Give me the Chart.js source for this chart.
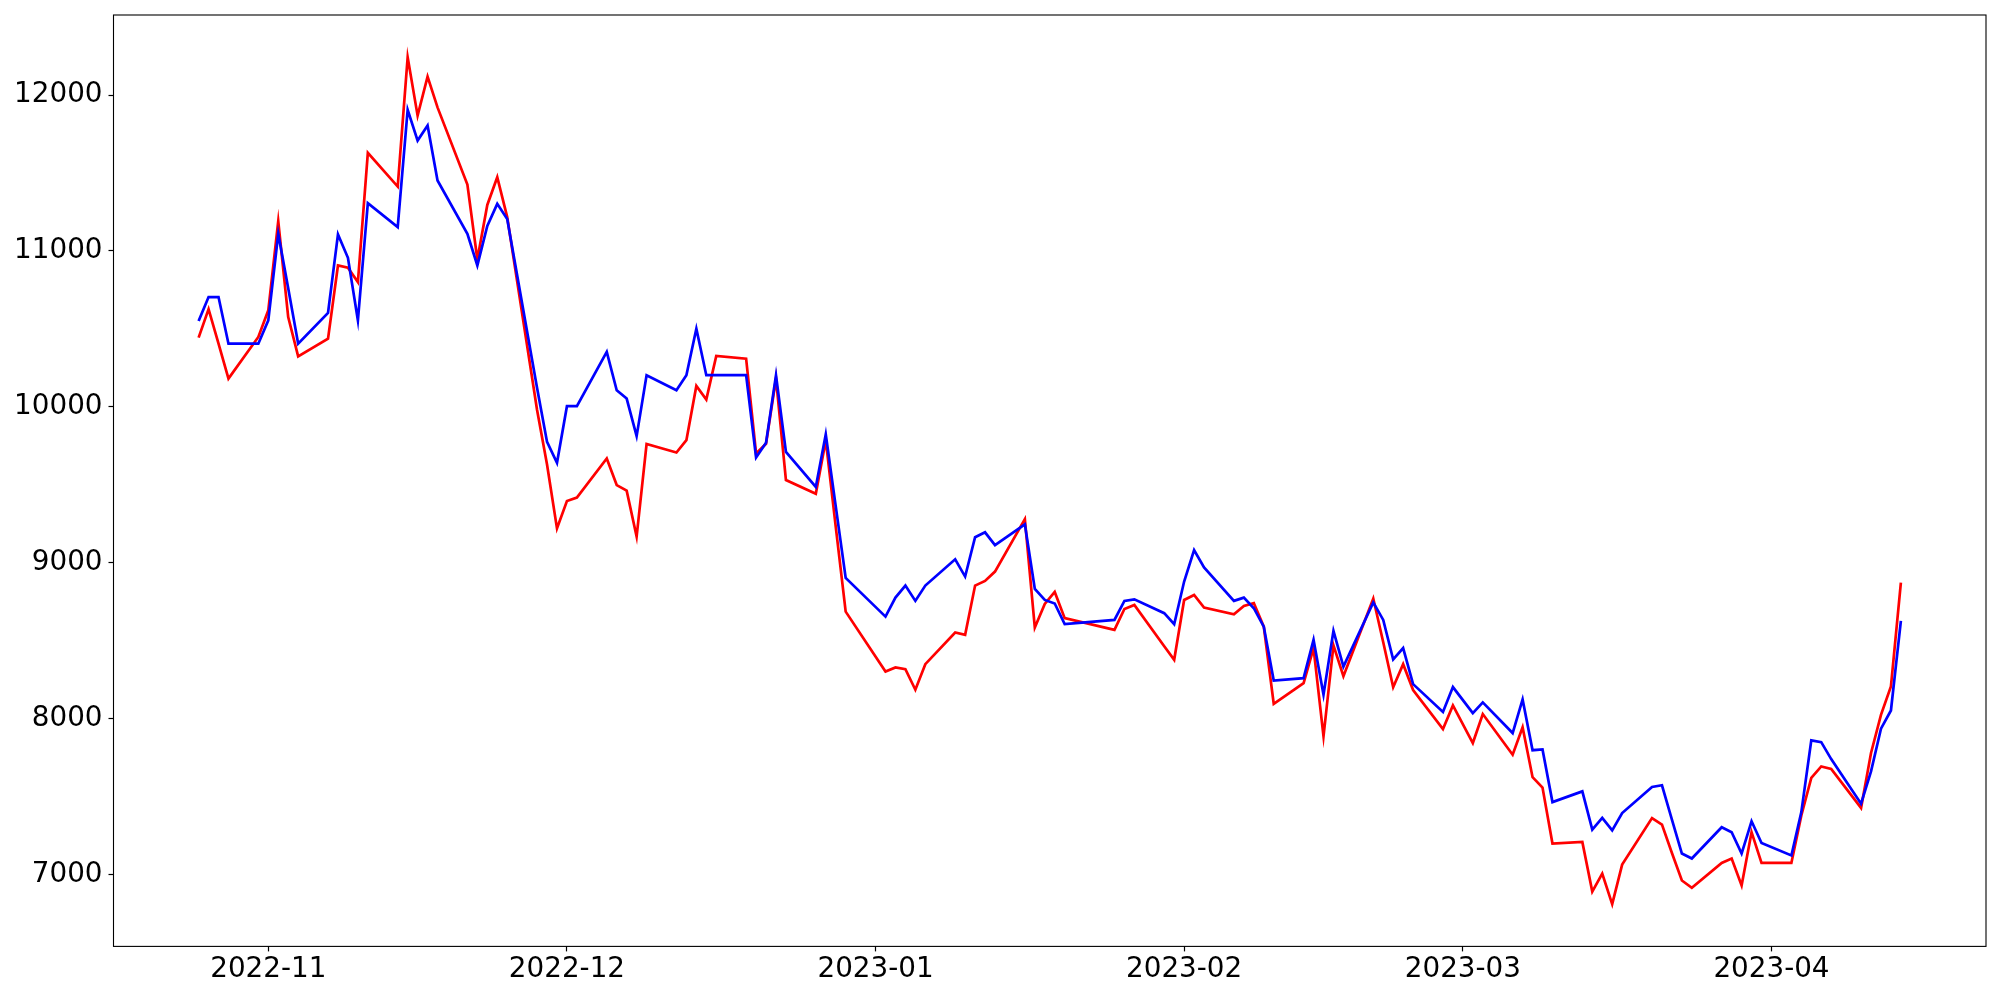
<!DOCTYPE html>
<html>
<head>
<meta charset="utf-8">
<script src="https://cdn.jsdelivr.net/npm/chart.js@4/dist/chart.umd.min.js"></script>
<style>
  html, body { margin: 0; padding: 0; background: #ffffff; }
  #wrap { width: 2000px; height: 1000px; }
</style>
</head>
<body>
<div id="wrap"><canvas id="priceChart" width="2000" height="1000"></canvas></div>
<script>
// trading days (weekdays, market holidays left out)
const dates = [
  '2022-10-25','2022-10-26','2022-10-27','2022-10-28','2022-10-31',
  '2022-11-01','2022-11-02','2022-11-03','2022-11-04',
  '2022-11-07','2022-11-08','2022-11-09','2022-11-10','2022-11-11',
  '2022-11-14','2022-11-15','2022-11-16','2022-11-17','2022-11-18',
  '2022-11-21','2022-11-22','2022-11-23','2022-11-24','2022-11-25',
  '2022-11-28','2022-11-29','2022-11-30','2022-12-01','2022-12-02',
  '2022-12-05','2022-12-06','2022-12-07','2022-12-08','2022-12-09',
  '2022-12-12','2022-12-13','2022-12-14','2022-12-15','2022-12-16',
  '2022-12-19','2022-12-20','2022-12-21','2022-12-22','2022-12-23',
  '2022-12-26','2022-12-27','2022-12-28','2022-12-29',
  '2023-01-02','2023-01-03','2023-01-04','2023-01-05','2023-01-06',
  '2023-01-09','2023-01-10','2023-01-11','2023-01-12','2023-01-13',
  '2023-01-16','2023-01-17','2023-01-18','2023-01-19','2023-01-20',
  '2023-01-25','2023-01-26','2023-01-27','2023-01-30','2023-01-31',
  '2023-02-01','2023-02-02','2023-02-03',
  '2023-02-06','2023-02-07','2023-02-08','2023-02-09','2023-02-10',
  '2023-02-13','2023-02-14','2023-02-15','2023-02-16','2023-02-17',
  '2023-02-20','2023-02-21','2023-02-22','2023-02-23','2023-02-24',
  '2023-02-27','2023-02-28','2023-03-02','2023-03-03',
  '2023-03-06','2023-03-07','2023-03-08','2023-03-09','2023-03-10',
  '2023-03-13','2023-03-14','2023-03-15','2023-03-16','2023-03-17',
  '2023-03-20','2023-03-21','2023-03-22','2023-03-23','2023-03-24',
  '2023-03-27','2023-03-28','2023-03-29','2023-03-30','2023-03-31',
  '2023-04-03','2023-04-04','2023-04-05','2023-04-06','2023-04-07',
  '2023-04-10','2023-04-11','2023-04-12','2023-04-13','2023-04-14'
];

const redValues = [
  10444, 10627, 10405, 10181, 10448,
  10619, 11191, 10576, 10324,
  10437, 10907, 10892, 10800, 11629,
  11413, 12242, 11868, 12118, 11921,
  11426, 10945, 11295, 11473, 11217,
  9980, 9630, 9220, 9396, 9418,
  9669, 9498, 9462, 9167, 9761,
  9707, 9786, 10134, 10047, 10326,
  10309, 9701, 9763, 10181, 9530,
  9442, 9786, 9231, 8686,
  8302, 8328, 8317, 8185, 8349,
  8552, 8537, 8853, 8883, 8943,
  9280, 8584, 8735, 8812, 8644,
  8569, 8703, 8729, 8464, 8377,
  8761, 8793, 8712,
  8669, 8723, 8740, 8590, 8095,
  8227, 8452, 7886, 8470, 8272,
  8770, 8490, 8201, 8349, 8183,
  7933, 8084, 7843, 8029,
  7768, 7944, 7624, 7557, 7198,
  7209, 6890, 7005, 6810, 7063,
  7362, 7320, 7138, 6961, 6914,
  7074, 7102, 6929, 7271, 7074,
  7074, 7378, 7619, 7693, 7677,
  7427, 7779, 8024, 8206, 8872
];

const blueValues = [
  10550, 10704, 10704, 10405, 10405,
  10555, 11110, 10760, 10405,
  10602, 11106, 10956, 10555, 11306,
  11153, 11906, 11708, 11804, 11452,
  11110, 10907, 11160, 11302, 11205,
  10120, 9775, 9641, 10004, 10004,
  10352, 10106, 10053, 9812, 10203,
  10106, 10203, 10501, 10203, 10203,
  10203, 9675, 9769, 10202, 9711,
  9486, 9824, 9363, 8902,
  8654, 8776, 8853, 8755, 8853,
  9022, 8911, 9163, 9195, 9113,
  9246, 8832, 8761, 8738, 8606,
  8633, 8755, 8765, 8676, 8605,
  8879, 9081, 8970,
  8755, 8776, 8708, 8590, 8244,
  8259, 8505, 8153, 8563, 8334,
  8745, 8633, 8379, 8452, 8221,
  8042, 8202, 8035, 8104,
  7907, 8123, 7797, 7802, 7464,
  7533, 7288, 7363, 7283, 7394,
  7561, 7572, 7352, 7134, 7102,
  7303, 7271, 7134, 7341, 7202,
  7122, 7400, 7860, 7849, 7740,
  7454, 7661, 7935, 8052, 8627
];

const monthTicks = ['2022-11-01','2022-12-01','2023-01-01','2023-02-01','2023-03-01','2023-04-01'];
const yTicks = [7000, 8000, 9000, 10000, 11000, 12000];

const DAY = 86400000;
const toDay = s => Date.UTC(+s.slice(0, 4), +s.slice(5, 7) - 1, +s.slice(8, 10)) / DAY;
const dayLabel = d => {
  const dt = new Date(d * DAY);
  return dt.getUTCFullYear() + '-' + String(dt.getUTCMonth() + 1).padStart(2, '0');
};

const xs = dates.map(toDay);
const redPoints = xs.map((x, i) => ({ x: x, y: redValues[i] }));
const bluePoints = xs.map((x, i) => ({ x: x, y: blueValues[i] }));

// matplotlib-like 5% margins
const xMin = Math.min(...xs), xMax = Math.max(...xs);
const xPad = (xMax - xMin) * 0.05;
const allY = redValues.concat(blueValues);
const yMin = Math.min(...allY), yMax = Math.max(...allY);
const yPad = (yMax - yMin) * 0.05;

// axes box on all four sides
const frame = {
  id: 'frame',
  afterDraw(chart) {
    const a = chart.chartArea, c = chart.ctx;
    c.save();
    c.strokeStyle = '#000000';
    c.lineWidth = 1.1;
    c.strokeRect(a.left, a.top, a.right - a.left, a.bottom - a.top);
    c.restore();
  }
};

const tickFont = { family: 'DejaVu Sans', size: 27.8 };

new Chart(document.getElementById('priceChart').getContext('2d'), {
  type: 'line',
  data: {
    datasets: [
      { label: 'blue', data: bluePoints, borderColor: '#0000ff', borderWidth: 2.7, pointRadius: 0, tension: 0, order: 0 },
      { label: 'red', data: redPoints, borderColor: '#ff0000', borderWidth: 2.7, pointRadius: 0, tension: 0, order: 1 }
    ]
  },
  plugins: [frame],
  options: {
    responsive: false,
    animation: false,
    layout: { padding: { top: 15, right: 14, left: 0, bottom: 0 } },
    plugins: { legend: { display: false }, tooltip: { enabled: false } },
    scales: {
      x: {
        type: 'linear',
        min: xMin - xPad,
        max: xMax + xPad,
        afterBuildTicks: scale => { scale.ticks = monthTicks.map(m => ({ value: toDay(m) })); },
        afterFit: scale => { scale.height = 53.6; scale.paddingLeft = 0; scale.paddingRight = 0; },
        grid: { drawOnChartArea: false, drawTicks: true, tickLength: 5, color: '#000000', tickWidth: 1.2 },
        border: { display: false },
        ticks: { color: '#000000', font: tickFont, padding: 2, maxRotation: 0, autoSkip: false, callback: v => dayLabel(v) }
      },
      y: {
        min: yMin - yPad,
        max: yMax + yPad,
        afterBuildTicks: scale => { scale.ticks = yTicks.map(v => ({ value: v })); },
        afterFit: scale => { scale.width = 113.5; scale.paddingTop = 0; scale.paddingBottom = 0; },
        grid: { drawOnChartArea: false, drawTicks: true, tickLength: 5, color: '#000000', tickWidth: 1.2 },
        border: { display: false },
        ticks: { color: '#000000', font: tickFont, padding: 6, autoSkip: false, callback: v => String(v) }
      }
    }
  }
});
</script>
</body>
</html>
